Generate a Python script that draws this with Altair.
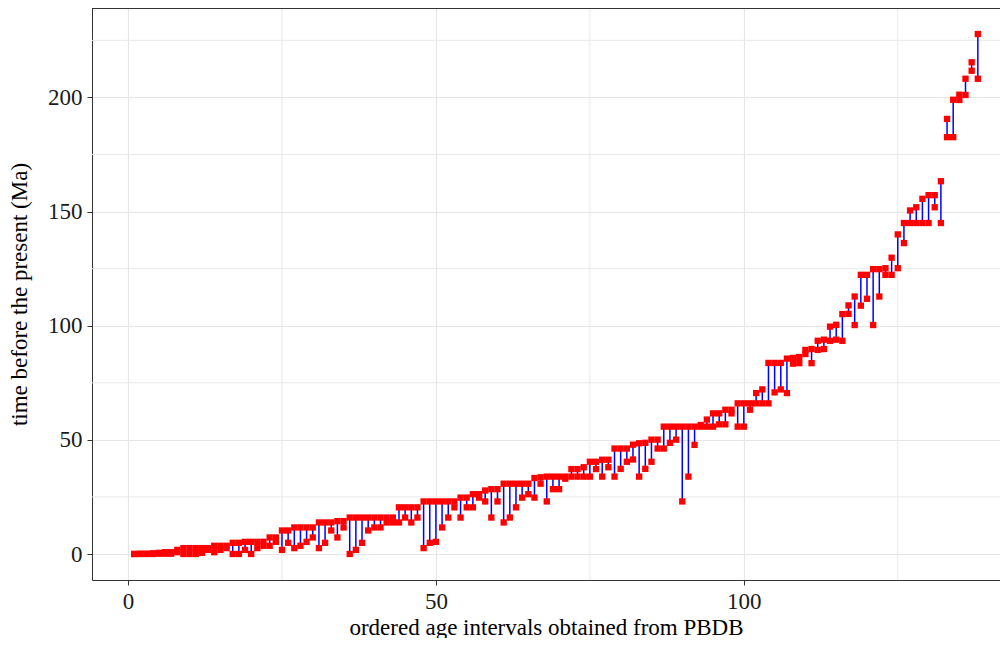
import altair as alt
import pandas as pd

# upper (older) and lower (younger) bounds of each ordered age interval, Ma
interval_max = [
    0.0117, 0.126, 0.126, 0.3, 0.5, 0.781, 0.781, 1.8, 2.58, 2.58,
    2.58, 2.58, 2.58, 3.6, 3.6, 3.6, 4.9, 4.9, 5.333, 5.333,
    5.333, 5.333, 7.246, 7.246, 10.3, 10.3, 11.63, 11.63, 11.63, 11.63,
    13.82, 13.82, 13.82, 14.4, 14.4, 15.97, 15.97, 15.97, 15.97, 15.97,
    15.97, 15.97, 15.97, 20.44, 20.44, 20.44, 20.44, 23.03, 23.03, 23.03,
    23.03, 23.03, 23.03, 24.7, 24.7, 26.2, 26.2, 27.82, 28.4, 28.4,
    30.8, 30.8, 30.8, 30.8, 30.8, 33.3, 33.6, 33.9, 33.9, 33.9,
    33.9, 37.2, 37.2, 38.0, 40.4, 40.4, 41.3, 41.3, 46.2, 46.2,
    46.2, 47.9, 48.5, 48.7, 50.1, 50.1, 55.8, 55.8, 55.8, 55.8,
    55.8, 55.8, 56.5, 58.9, 61.6, 61.6, 63.2, 63.2, 66.0, 66.0,
    66.0, 70.5, 72.1, 83.7, 83.7, 83.7, 85.6, 85.9, 86.3, 89.4,
    89.8, 93.4, 93.9, 99.6, 100.4, 105.1, 108.9, 112.8, 122.3, 122.3,
    124.8, 124.8, 125.2, 129.8, 140.0, 145.0, 150.5, 151.9, 155.6, 157.2,
    157.2, 163.3, 190.6, 199.0, 201.2, 208.2, 215.4, 227.8,
]
interval_min = [
    0.0, 0.0, 0.0117, 0.0117, 0.126, 0.126, 0.126, 0.781, 0.0117, 0.0117,
    0.0117, 0.5, 1.8, 0.781, 1.8, 2.58, 0.0117, 0.0117, 1.8, 0.0117,
    2.58, 3.6, 3.6, 5.333, 1.8, 4.9, 2.58, 3.6, 5.333, 7.246,
    2.58, 4.9, 10.3, 7.246, 11.63, 0.0117, 1.8, 4.9, 10.3, 11.63,
    11.63, 13.82, 13.82, 13.82, 15.97, 13.82, 15.97, 2.58, 4.9, 5.333,
    11.63, 15.97, 20.44, 15.97, 20.44, 20.44, 24.7, 23.03, 15.97, 23.03,
    13.82, 15.97, 20.44, 24.7, 26.2, 24.7, 30.8, 23.03, 28.4, 28.4,
    33.0, 33.9, 33.9, 33.9, 33.9, 37.2, 33.9, 38.0, 33.9, 37.3,
    40.4, 41.4, 33.9, 37.3, 40.4, 46.2, 46.2, 48.7, 50.1, 23.03,
    33.9, 47.8, 55.8, 55.8, 55.8, 56.8, 56.8, 61.6, 55.8, 55.8,
    63.2, 66.0, 66.0, 66.0, 70.8, 72.1, 70.5, 83.4, 83.6, 87.6,
    83.6, 89.4, 89.8, 93.4, 93.9, 93.4, 105.2, 100.3, 108.8, 111.8,
    100.3, 112.8, 122.3, 122.3, 125.2, 136.2, 145.0, 145.0, 145.0, 145.0,
    151.9, 145.0, 182.6, 182.6, 198.9, 201.1, 211.7, 208.2,
]

x_ticks = [0, 50, 100]
y_ticks = [0, 50, 100, 150, 200]
minor_x = [25, 75, 125]
minor_y = [25, 75, 125, 175, 225]

df = pd.DataFrame({
    "order": list(range(1, len(interval_max) + 1)),
    "max_ma": interval_max,
    "min_ma": interval_min,
})

W, H = 908, 572
FONT = "Liberation Serif"
GRID = "#E6E6E6"
INK = "#333333"

xs = alt.Scale(domain=[-5.85, 141.6], nice=False, zero=False)
ys = alt.Scale(domain=[-11.39, 239.19], nice=False, zero=False)

common_axis = dict(
    grid=True, gridColor=GRID, gridWidth=1.2,
    domainColor=INK, domainWidth=1,
    tickColor=INK, tickSize=5, tickWidth=1,
    labelFont=FONT, labelFontSize=23, labelColor="#1a1a1a",
    titleFont=FONT, titleFontSize=23, titleFontWeight="normal", titleColor="black",
)

x_axis = alt.Axis(values=x_ticks, title="ordered age intervals obtained from PBDB",
                  labelPadding=5, titlePadding=3, **common_axis)
y_axis = alt.Axis(values=y_ticks, title="time before the present (Ma)",
                  labelPadding=5, titlePadding=16, **common_axis)

minor_v = alt.Chart(pd.DataFrame({"gx": minor_x})).mark_rule(
    color=GRID, strokeWidth=0.9).encode(x=alt.X("gx:Q", scale=xs, axis=x_axis))
minor_h = alt.Chart(pd.DataFrame({"gy": minor_y})).mark_rule(
    color=GRID, strokeWidth=0.9).encode(y=alt.Y("gy:Q", scale=ys, axis=y_axis))

segs = alt.Chart(df).mark_rule(color="#0000FF", strokeWidth=1.5).encode(
    x=alt.X("order:Q", scale=xs, axis=x_axis),
    y=alt.Y("min_ma:Q", scale=ys, axis=y_axis),
    y2="max_ma:Q",
)

pts = alt.Chart(df).transform_fold(["max_ma", "min_ma"], as_=["bound", "ma"]).mark_square(
    size=40, color="#FF0000", opacity=1).encode(
    x=alt.X("order:Q", scale=xs, axis=x_axis),
    y=alt.Y("ma:Q", scale=ys, axis=y_axis),
)

top_border = alt.Chart(pd.DataFrame({"b": [0]})).mark_rule(color=INK, strokeWidth=1).encode(
    y=alt.value(0.5), x=alt.value(0), x2=alt.value(W))

chart = alt.layer(minor_v, minor_h, segs, pts, top_border).properties(
    width=W, height=H,
    autosize=alt.AutoSizeParams(type="none"),
    padding={"left": 84, "top": 0, "right": 0, "bottom": 58},
).configure_view(stroke="transparent")

chart.save("out.html", embed_options={"renderer": "svg", "actions": False})
